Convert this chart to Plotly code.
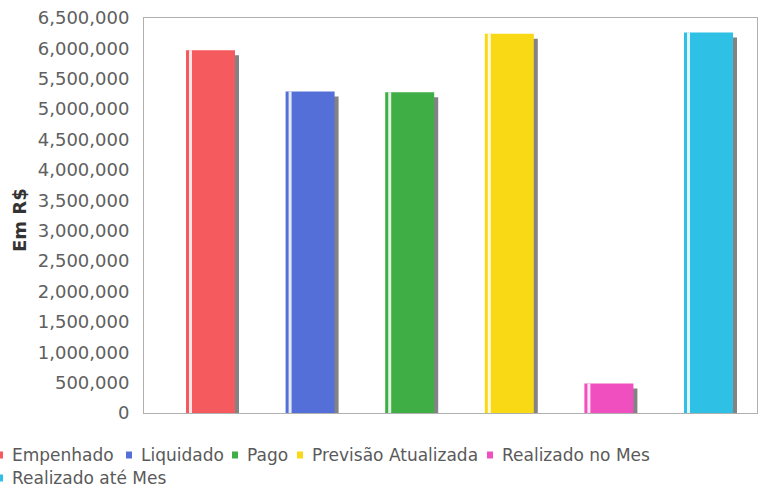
import plotly.graph_objects as go

# ---- data ----
series_names = ["Empenhado", "Liquidado", "Pago", "Previsão Atualizada",
                "Realizado no Mes", "Realizado até Mes"]
series_values = [5970000, 5290000, 5280000, 6240000, 485000, 6260000]
series_colors = ["#F45A5E", "#5470D8", "#3FAE45", "#F9D915", "#F04FC0", "#2FC0E6"]
y_ticks = list(range(0, 6500001, 500000))

# ---- layout constants (pixels) ----
W, H = 767, 492
L, R, T, B = 144, 757, 18, 413
PX_PER_CAT = 99.6
X0_PX = 210.5  # center of first bar

x_lo = -(X0_PX - L) / PX_PER_CAT
x_hi = (R - X0_PX) / PX_PER_CAT
bar_w = 49 / PX_PER_CAT
y_max = 6500000
px_per_val = (B - T) / y_max

fig = go.Figure()

for i, (name, val, col) in enumerate(zip(series_names, series_values, series_colors)):
    # shadow
    dy = 5 / px_per_val
    fig.add_trace(go.Bar(
        x=[i], y=[val], base=[-dy], width=bar_w, offset=-bar_w / 2 + 4 / PX_PER_CAT,
        marker=dict(color="rgba(90,90,90,0.75)", line=dict(width=0)),
        showlegend=False, hoverinfo="skip"))
    # main bar
    fig.add_trace(go.Bar(
        x=[i], y=[val], width=bar_w, offset=-bar_w / 2, name=name,
        marker=dict(color=col, line=dict(width=0)), showlegend=False))
    # highlight stripe
    fig.add_trace(go.Bar(
        x=[i], y=[val], width=3 / PX_PER_CAT, offset=-bar_w / 2 + 3 / PX_PER_CAT,
        marker=dict(color="rgba(255,255,255,0.85)", line=dict(width=0)),
        showlegend=False, hoverinfo="skip"))


def px_x(p):
    return (p - L) / (R - L)


def px_y(p):
    return (B - p) / (B - T)


# custom legend (positions in pixels)
legend_pos = [(-3, 455), (126, 455), (232, 455), (297, 455), (487, 455), (-3, 478)]
annotations = []
shapes = []
for (lx, ly), name, col in zip(legend_pos, series_names, series_colors):
    shapes.append(dict(type="rect", xref="paper", yref="paper",
                       x0=px_x(lx), x1=px_x(lx + 6), y0=px_y(ly + 3.5), y1=px_y(ly - 3.5),
                       fillcolor=col, line=dict(width=0), layer="above"))
    annotations.append(dict(text=name, xref="paper", yref="paper",
                            x=px_x(lx + 13), y=px_y(ly), xanchor="left", yanchor="middle",
                            showarrow=False,
                            font=dict(family="DejaVu Sans", size=17, color="#5a5a5a")))

annotations.append(dict(text="<b>Em R$</b>", xref="paper", yref="paper",
                        x=px_x(19), y=px_y(220), xanchor="center", yanchor="middle",
                        textangle=-90, showarrow=False,
                        font=dict(family="DejaVu Sans", size=18, color="#333333")))

fig.update_layout(
    width=W, height=H,
    margin=dict(l=L, r=W - R, t=T, b=H - B, autoexpand=False),
    paper_bgcolor="white", plot_bgcolor="white",
    barmode="overlay", showlegend=False,
    xaxis=dict(range=[x_lo, x_hi], showticklabels=False, showgrid=False,
               zeroline=False, showline=True, linecolor="#b0b0b0", linewidth=1,
               mirror=True, ticks=""),
    yaxis=dict(range=[0, y_max], tickvals=y_ticks, tickformat=",d",
               showgrid=False, zeroline=False, showline=True, linecolor="#b0b0b0",
               linewidth=1, mirror=True, ticks="", ticklabelstandoff=10,
               tickfont=dict(family="DejaVu Sans", size=18, color="#606060")),
    annotations=annotations, shapes=shapes,
    font=dict(family="DejaVu Sans"),
)

fig.write_html("out.html", config={"displayModeBar": False},
               post_script="document.body.style.margin='0';document.body.style.overflow='hidden';")
